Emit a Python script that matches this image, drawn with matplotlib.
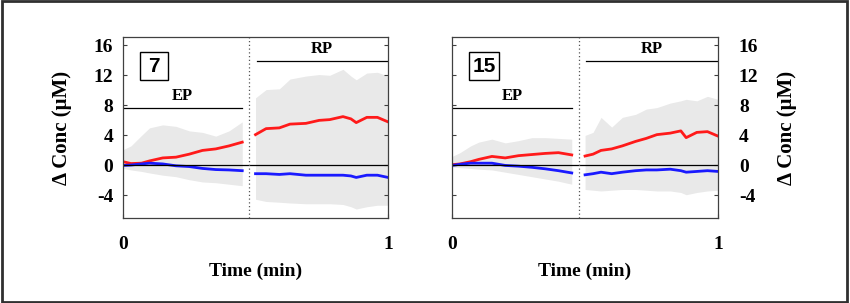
import matplotlib.pyplot as plt
from matplotlib.patches import Rectangle

plt.rcParams['axes.unicode_minus'] = False

# time grid (min) for the EP and RP segments
t_ep = [0, .03, .07, .10, .15, .20, .25, .30, .35, .40, .45]
t_rp7 = [.50, .54, .59, .63, .69, .74, .78, .83, .86, .88, .92, .96, 1.0]
t_rp15 = [.50, .53, .56, .60, .64, .69, .73, .77, .82, .86, .88, .92, .96, 1.0]

# panel 7
red7_ep = [0.5, 0.25, 0.3, 0.6, 1.0, 1.1, 1.5, 2.0, 2.2, 2.6, 3.1]
blue7_ep = [0.0, 0.05, 0.2, 0.3, 0.2, -0.05, -0.15, -0.4, -0.55, -0.6, -0.7]
hi7_ep = [2.1, 2.6, 4.0, 5.0, 5.4, 5.2, 4.6, 4.4, 3.9, 4.6, 5.8]
lo7_ep = [-0.4, -0.6, -0.8, -1.0, -1.3, -1.5, -1.9, -2.2, -2.3, -2.5, -2.7]
red7_rp = [4.1, 4.9, 5.0, 5.5, 5.6, 6.0, 6.1, 6.5, 6.2, 5.7, 6.4, 6.4, 5.8]
blue7_rp = [-1.1, -1.1, -1.2, -1.1, -1.3, -1.3, -1.3, -1.3, -1.4, -1.6, -1.3, -1.3, -1.6]
hi7_rp = [9.0, 10.1, 10.2, 11.5, 11.9, 12.1, 12.0, 12.8, 11.9, 11.4, 12.3, 12.4, 11.9]
lo7_rp = [-4.5, -4.8, -4.9, -5.0, -5.1, -5.1, -5.1, -5.2, -5.5, -5.8, -5.5, -5.3, -5.3]

# panel 15
red15_ep = [0.1, 0.2, 0.5, 0.8, 1.2, 1.0, 1.3, 1.45, 1.6, 1.7, 1.4]
blue15_ep = [0.0, 0.15, 0.3, 0.3, 0.3, 0.0, -0.1, -0.25, -0.45, -0.7, -1.0]
hi15_ep = [1.2, 1.7, 2.6, 3.1, 3.5, 3.0, 3.3, 3.7, 3.7, 3.6, 3.5]
lo15_ep = [-0.2, -0.3, -0.4, -0.5, -0.6, -0.9, -1.2, -1.5, -1.8, -2.1, -2.5]
red15_rp = [1.25, 1.5, 2.0, 2.2, 2.6, 3.2, 3.6, 4.1, 4.3, 4.6, 3.7, 4.4, 4.5, 3.9]
blue15_rp = [-1.25, -1.1, -0.9, -1.1, -0.9, -0.7, -0.6, -0.6, -0.5, -0.7, -0.9, -0.8, -0.7, -0.8]
hi15_rp = [4.0, 4.4, 6.4, 5.1, 6.4, 6.8, 7.5, 7.7, 8.3, 8.6, 8.8, 8.6, 9.2, 8.8]
lo15_rp = [-3.2, -3.3, -3.4, -3.3, -3.2, -3.2, -3.3, -3.4, -3.4, -3.6, -3.9, -3.6, -3.4, -3.3]

yticks = [-4, 0, 4, 8, 12, 16]
serif = 'Liberation Serif'
spine_col = '#404040'
shade = '#e9e9e9'


def panel(ax, label, segs, right=False):
    for t, red, blue, hi, lo in segs:
        ax.fill_between(t, lo, hi, color=shade, lw=0)
        ax.plot(t, red, color='#ff1a1a', lw=2.0)
        ax.plot(t, blue, color='#1a1aff', lw=2.0)
    ax.axhline(0, color='black', lw=0.9)
    ax.axvline(0.477, color='#555555', lw=0.9, ls=(0, (1, 2)))
    # epoch bars
    ax.plot([0, 0.45], [7.6, 7.6], color='black', lw=0.9)
    ax.plot([0.505, 0.995], [13.9, 13.9], color='black', lw=0.9)
    ax.text(0.225, 8.2, 'EP', ha='center', va='bottom', family=serif,
            fontweight='bold', fontsize=12)
    ax.text(0.75, 14.5, 'RP', ha='center', va='bottom', family=serif,
            fontweight='bold', fontsize=12)
    w = 0.106 if len(label) == 1 else 0.113
    ax.add_patch(Rectangle((0.064, 0.762), w, 0.155, transform=ax.transAxes,
                           fill=False, ec='black', lw=1))
    ax.text(0.064 + w / 2, 0.838, label, transform=ax.transAxes, ha='center',
            va='center', family='Liberation Sans', fontweight='bold', fontsize=15)

    ax.set_xlim(0, 1)
    ax.set_ylim(-7, 17.1)
    ax.set_xticks([0, 1])
    ax.set_yticks(yticks)
    ax.tick_params(direction='in', length=3, color=spine_col, labelsize=14,
                   left=True, right=True)
    ax.tick_params(axis='x', pad=13)
    for s in ax.spines.values():
        s.set_color(spine_col)
        s.set_linewidth(0.9)
    if right:
        ax.yaxis.tick_right()
        ax.tick_params(axis='y', left=True, pad=15)
        ax.yaxis.set_label_position('right')
        ax.yaxis.set_label_coords(1.222, 0.48)
    else:
        ax.tick_params(axis='y', pad=7)
        ax.yaxis.set_label_coords(-0.192, 0.48)
    for lab in ax.get_xticklabels() + ax.get_yticklabels():
        lab.set_family(serif)
        lab.set_fontweight('bold')
    ax.set_xlabel('Time (min)', family=serif, fontweight='bold', fontsize=14)
    ax.set_ylabel('\u0394 Conc (\u03bcM)', family=serif, fontweight='bold',
                  fontsize=15, rotation=90)
    ax.xaxis.set_label_coords(0.5, -0.245)


fig = plt.figure(figsize=(8.5, 3.03), dpi=100)
ax1 = fig.add_axes([0.1447, 0.2805, 0.3118, 0.5974])
ax2 = fig.add_axes([0.5318, 0.2805, 0.3130, 0.5974])

panel(ax1, '7', [(t_ep, red7_ep, blue7_ep, hi7_ep, lo7_ep),
                 (t_rp7, red7_rp, blue7_rp, hi7_rp, lo7_rp)])
panel(ax2, '15', [(t_ep, red15_ep, blue15_ep, hi15_ep, lo15_ep),
                  (t_rp15, red15_rp, blue15_rp, hi15_rp, lo15_rp)], right=True)

# outer frame
fig.patches.append(Rectangle((0.002, 0.004), 0.995, 0.992, transform=fig.transFigure,
                             fill=False, ec='#303030', lw=2))

fig.savefig('out.png', dpi=100)
